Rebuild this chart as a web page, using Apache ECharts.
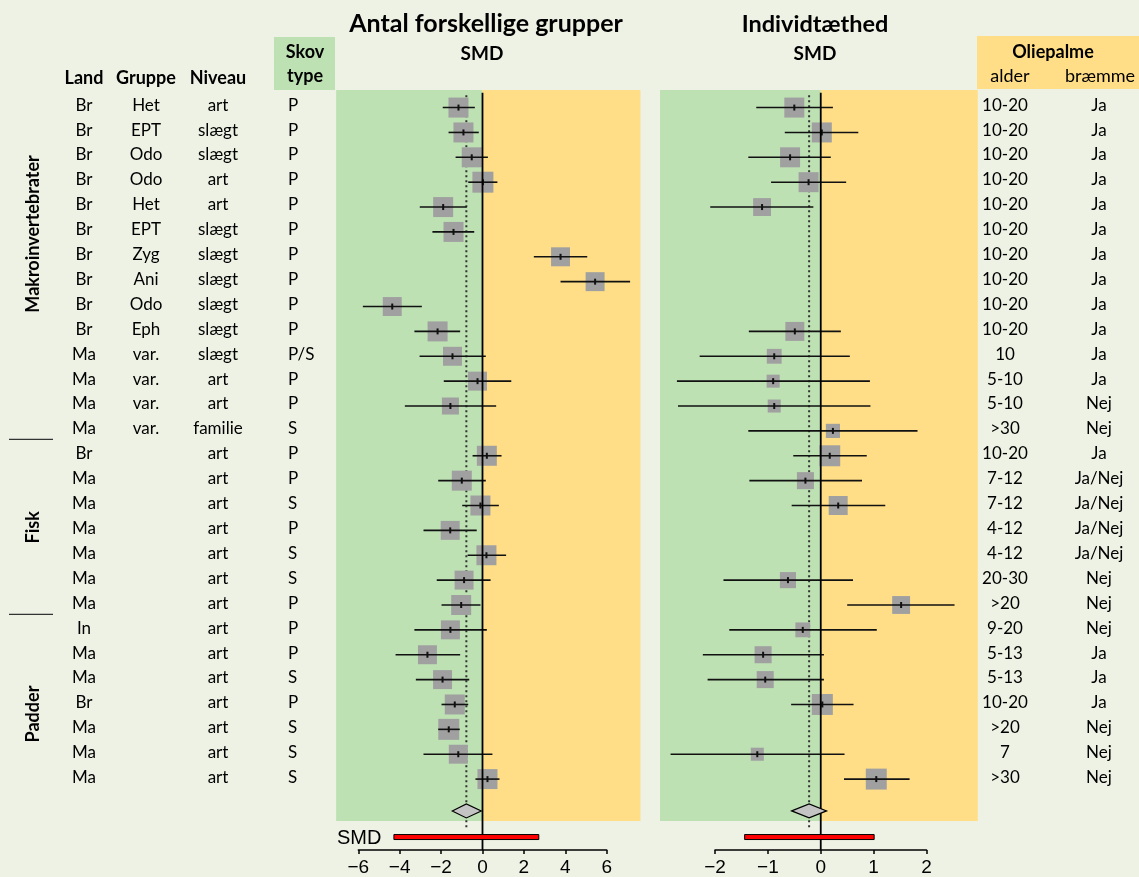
<!DOCTYPE html>
<html>
<head>
<meta charset="utf-8">
<script src="https://cdn.jsdelivr.net/npm/echarts@6/dist/echarts.min.js"></script>
<style>
  html, body { margin: 0; padding: 0; background: #EEF2E4; }
  #chart { width: 1139px; height: 877px; }
</style>
</head>
<body>
<div id="chart"></div>
<script>
// ---------- data ----------
var land    = ['Br','Br','Br','Br','Br','Br','Br','Br','Br','Br','Ma','Ma','Ma','Ma','Br','Ma','Ma','Ma','Ma','Ma','Ma','In','Ma','Ma','Br','Ma','Ma','Ma'];
var gruppe  = ['Het','EPT','Odo','Odo','Het','EPT','Zyg','Ani','Odo','Eph','var.','var.','var.','var.','','','','','','','','','','','','','',''];
var niveau  = ['art','slægt','slægt','art','art','slægt','slægt','slægt','slægt','slægt','slægt','art','art','familie','art','art','art','art','art','art','art','art','art','art','art','art','art','art'];
var skovtype = ['P','P','P','P','P','P','P','P','P','P','P/S','P','P','S','P','P','S','P','S','S','P','P','P','S','P','S','S','S'];
var alder   = ['10-20','10-20','10-20','10-20','10-20','10-20','10-20','10-20','10-20','10-20','10','5-10','5-10','>30','10-20','7-12','7-12','4-12','4-12','20-30','>20','9-20','5-13','5-13','10-20','>20','7','>30'];
var braemme = ['Ja','Ja','Ja','Ja','Ja','Ja','Ja','Ja','Ja','Ja','Ja','Ja','Nej','Nej','Ja','Ja/Nej','Ja/Nej','Ja/Nej','Ja/Nej','Nej','Nej','Nej','Ja','Ja','Ja','Nej','Nej','Nej'];

var groupNames = ['Makroinvertebrater', 'Fisk', 'Padder'];
var groupLabelRows = [5.07, 16.85, 24.35];
var groupSeparatorRows = [13.32, 20.35];

// Antal forskellige grupper (SMD, lower CI, upper CI, weight %)
var smdGroups = [-1.16,-0.92,-0.52,0.02,-1.90,-1.40,3.77,5.44,-4.36,-2.17,-1.45,-0.24,-1.55,null,0.21,-1.00,-0.10,-1.56,0.19,-0.89,-1.03,-1.55,-2.66,-1.93,-1.34,-1.63,-1.17,0.24];
var loGroups  = [-1.92,-1.64,-1.30,-0.69,-3.03,-2.42,2.48,3.77,-5.78,-3.29,-3.04,-1.87,-3.75,null,-0.48,-2.14,-0.98,-2.85,-0.72,-2.21,-1.98,-3.29,-4.20,-3.22,-1.98,-2.14,-2.85,-0.34];
var hiGroups  = [-0.37,-0.18,0.26,0.72,-0.76,-0.40,5.06,7.13,-2.93,-1.08,0.16,1.39,0.66,null,0.92,0.16,0.79,-0.28,1.14,0.39,-0.10,0.21,-1.08,-0.64,-0.69,-1.10,0.48,0.82];
var wGroups   = [4.0,4.0,4.0,4.4,4.0,4.0,3.6,3.6,3.6,4.0,3.6,3.6,2.9,null,4.0,4.0,4.0,3.6,4.0,3.6,4.0,3.6,3.6,3.6,4.0,4.4,3.6,4.0];
var summaryGroups = [-0.78, -1.46, -0.06];   // estimate, lower, upper
var predGroups    = [-4.28, 2.72];           // prediction interval

// Individtæthed
var smdDens = [-0.50,0.02,-0.58,-0.23,-1.11,null,null,null,null,-0.49,-0.88,-0.90,-0.88,0.23,0.17,-0.29,0.33,null,null,-0.62,1.52,-0.34,-1.09,-1.05,0.03,null,-1.20,1.05];
var loDens  = [-1.22,-0.68,-1.37,-0.94,-2.09,null,null,null,null,-1.36,-2.29,-2.72,-2.70,-1.37,-0.52,-1.35,-0.55,null,null,-1.84,0.50,-1.73,-2.23,-2.14,-0.56,null,-2.84,0.44];
var hiDens  = [0.23,0.71,0.19,0.48,-0.14,null,null,null,null,0.38,0.55,0.93,0.94,1.83,0.87,0.78,1.22,null,null,0.61,2.53,1.06,0.06,0.06,0.62,null,0.45,1.68];
var wDens   = [4.0,4.0,4.0,4.0,3.2,null,null,null,null,3.6,2.2,1.7,1.7,2.0,4.4,2.9,3.6,null,null,2.6,3.2,2.2,2.9,2.9,4.4,null,1.7,4.4];
var summaryDens = [-0.22, -0.55, 0.11];
var predDens    = [-1.44, 1.01];

// ---------- layout ----------
var FONT = 'Lato, "Noto Sans", sans-serif';
var GREEN = '#BDE1B3', YELLOW = '#FFDE87', BOXGREY = '#A0A0A0';
var Y_MIN = -4.325, Y_MAX = 29.851;     // row units, top of canvas -> x axis line
var PANEL_TOP = -0.71, PANEL_BOTTOM = 28.69;
var DIAMOND_ROW = 28.28, PRED_ROW = 29.33;

var chart = echarts.init(document.getElementById('chart'));

function yAxisFor(i) {
  return { gridIndex: i, type: 'value', inverse: true, min: Y_MIN, max: Y_MAX, show: false };
}

function plotXAxis(gridIndex, min, max, interval) {
  return {
    gridIndex: gridIndex, type: 'value', min: min, max: max, interval: interval,
    axisLine: { show: true, onZero: false, lineStyle: { color: '#000', width: 1.5 } },
    axisTick: { show: true, length: 4, lineStyle: { color: '#000', width: 1.5 } },
    splitLine: { show: false },
    axisLabel: {
      margin: 8, color: '#000', fontSize: 19, fontFamily: '"Liberation Sans", Arial, sans-serif',
      formatter: function (v) { return String(v).replace('-', '\u2212'); }
    }
  };
}

function backgroundSeries(idx, left, right) {
  return {
    type: 'custom', xAxisIndex: idx, yAxisIndex: idx, clip: false, z: 1, silent: true,
    data: [[left, 0, GREEN], [0, right, YELLOW]],
    renderItem: function (params, api) {
      var d = params.dataIndex === 0 ? [left, 0, GREEN] : [0, right, YELLOW];
      var a = api.coord([d[0], PANEL_TOP]);
      var b = api.coord([d[1], PANEL_BOTTOM]);
      return { type: 'rect', shape: { x: a[0], y: a[1], width: b[0] - a[0], height: b[1] - a[1] }, style: { fill: d[2] } };
    }
  };
}

function referenceSeries(idx, summary) {
  return {
    type: 'custom', xAxisIndex: idx, yAxisIndex: idx, clip: false, z: 2, silent: true,
    data: [[summary[0]]],
    renderItem: function (params, api) {
      var d0 = api.coord([summary[0], -0.5]);
      var d1 = api.coord([summary[0], 29.0]);
      return {
        type: 'line', shape: { x1: d0[0], y1: d0[1], x2: d1[0], y2: d1[1] },
        style: { stroke: '#333', lineWidth: 2, lineDash: [2, 3] }
      };
    }
  };
}

function forestSeries(idx, est, lo, hi, w) {
  var data = [];
  est.forEach(function (v, i) { if (v !== null) data.push([v, i, lo[i], hi[i], w[i]]); });
  return {
    type: 'custom', xAxisIndex: idx, yAxisIndex: idx, clip: false, z: 3,
    data: data,
    renderItem: function (params, api) {
      var row = api.value(1);
      var c = api.coord([api.value(0), row]);
      var l = api.coord([api.value(2), row]);
      var h = api.coord([api.value(3), row]);
      var s = 10 * Math.sqrt(api.value(4));
      return {
        type: 'group', children: [
          { type: 'rect', shape: { x: c[0] - s / 2, y: c[1] - s / 2, width: s, height: s }, style: { fill: BOXGREY } },
          { type: 'line', shape: { x1: l[0], y1: c[1], x2: h[0], y2: c[1] }, style: { stroke: '#111', lineWidth: 1.6 }, z2: 5 },
          { type: 'line', shape: { x1: c[0], y1: c[1] - 3, x2: c[0], y2: c[1] + 3 }, style: { stroke: '#111', lineWidth: 2 }, z2: 6 }
        ]
      };
    }
  };
}

function summarySeries(idx, summary, pred) {
  return {
    type: 'custom', xAxisIndex: idx, yAxisIndex: idx, clip: false, z: 4, silent: true,
    data: [[summary[0]]],
    renderItem: function (params, api) {
      var z0 = api.coord([0, -0.6]);
      var z1 = api.coord([0, Y_MAX]);
      var c = api.coord([summary[0], DIAMOND_ROW]);
      var lo = api.coord([summary[1], DIAMOND_ROW]);
      var hi = api.coord([summary[2], DIAMOND_ROW]);
      var p0 = api.coord([pred[0], PRED_ROW]);
      var p1 = api.coord([pred[1], PRED_ROW]);
      return {
        type: 'group', children: [
          { type: 'line', shape: { x1: z0[0], y1: z0[1], x2: z1[0], y2: z1[1] }, style: { stroke: '#000', lineWidth: 1.8 } },
          { type: 'polygon', shape: { points: [[lo[0], c[1]], [c[0], c[1] - 7], [hi[0], c[1]], [c[0], c[1] + 7]] },
            style: { fill: '#C4C4C4', stroke: '#000', lineWidth: 1.2 } },
          { type: 'rect', shape: { x: p0[0], y: p0[1] - 2.5, width: p1[0] - p0[0], height: 5 },
            style: { fill: '#FF0000', stroke: '#000', lineWidth: 1 } }
        ]
      };
    }
  };
}

// table text columns (x in pixels of the table grid)
var tableCols = [
  { values: land, x: 84, align: 'center' },
  { values: gruppe, x: 146, align: 'center' },
  { values: niveau, x: 218, align: 'center' },
  { values: skovtype, x: 288, align: 'left' },
  { values: alder, x: 1005, align: 'center' },
  { values: braemme, x: 1099, align: 'center' }
];

var rows = land.map(function (d, i) { return [i]; });

var tableSeries = {
  type: 'custom', xAxisIndex: 0, yAxisIndex: 0, clip: false, z: 5, silent: true,
  data: rows,
  renderItem: function (params, api) {
    var i = api.value(0);
    var children = tableCols.map(function (col) {
      var p = api.coord([col.x, i - 0.1]);
      return {
        type: 'text', x: p[0], y: p[1],
        style: { text: col.values[i], font: '17px ' + FONT, fill: '#000', align: col.align, verticalAlign: 'middle' }
      };
    });
    return { type: 'group', children: children };
  }
};

var groupSeries = {
  type: 'custom', xAxisIndex: 0, yAxisIndex: 0, clip: false, z: 5, silent: true,
  data: groupNames.map(function (n, i) { return [i]; }),
  renderItem: function (params, api) {
    var k = api.value(0);
    var p = api.coord([33, groupLabelRows[k]]);
    var children = [{
      type: 'text', x: p[0], y: p[1], rotation: Math.PI / 2,
      style: { text: groupNames[k], font: 'bold 18px ' + FONT, fill: '#000', align: 'center', verticalAlign: 'middle' }
    }];
    if (k < groupSeparatorRows.length) {
      var a = api.coord([9, groupSeparatorRows[k]]);
      var b = api.coord([53, groupSeparatorRows[k]]);
      children.push({ type: 'line', shape: { x1: a[0], y1: a[1], x2: b[0], y2: b[1] }, style: { stroke: '#333', lineWidth: 1.2 } });
    }
    return { type: 'group', children: children };
  }
};

function hdr(text, x, y, bold, size, align) {
  return {
    type: 'text', x: x, y: y, z: 10,
    style: { text: text, font: (bold ? 'bold ' : '') + (size || 16) + 'px ' + FONT, fill: '#000',
      align: align || 'center', verticalAlign: 'middle' }
  };
}

var option = {
  backgroundColor: '#EEF2E4',
  animation: false,
  grid: [
    { left: 0, right: 0, top: 0, bottom: 26 },
    { left: 358.3, right: 532.3, top: 0, bottom: 26 },
    { left: 715, right: 212.5, top: 0, bottom: 26 }
  ],
  xAxis: [
    { gridIndex: 0, type: 'value', min: 0, max: 1139, show: false },
    plotXAxis(1, -6, 6, 2),
    plotXAxis(2, -2, 2, 1)
  ],
  yAxis: [yAxisFor(0), yAxisFor(1), yAxisFor(2)],
  graphic: [
    { type: 'rect', shape: { x: 274, y: 37, width: 61, height: 53 }, style: { fill: GREEN }, z: 1 },
    { type: 'rect', shape: { x: 977, y: 36, width: 162, height: 53 }, style: { fill: YELLOW }, z: 1 },
    hdr('Antal forskellige grupper', 486, 24, true, 25),
    hdr('SMD', 482, 54, true, 19),
    hdr('Individtæthed', 815, 24, true, 23.5),
    hdr('SMD', 815, 54, true, 19),
    hdr('Land', 84, 78, true, 18),
    hdr('Gruppe', 146, 78, true, 18),
    hdr('Niveau', 218, 78, true, 18),
    hdr('Skov', 305, 52, true, 18),
    hdr('type', 305, 76, true, 18),
    hdr('Oliepalme', 1053, 52, true, 18),
    hdr('alder', 1010, 76, false, 18),
    hdr('bræmme', 1100, 76, false, 18),
    {
      type: 'text', x: 337, y: 838, z: 10,
      style: { text: 'SMD', font: '20px "Liberation Sans", Arial, sans-serif', fill: '#000', verticalAlign: 'middle' }
    }
  ],
  series: [
    backgroundSeries(1, -7.07, 7.63),
    backgroundSeries(2, -3.04, 2.97),
    referenceSeries(1, summaryGroups),
    referenceSeries(2, summaryDens),
    forestSeries(1, smdGroups, loGroups, hiGroups, wGroups),
    forestSeries(2, smdDens, loDens, hiDens, wDens),
    summarySeries(1, summaryGroups, predGroups),
    summarySeries(2, summaryDens, predDens),
    tableSeries,
    groupSeries
  ]
};

chart.setOption(option);
</script>
</body>
</html>
